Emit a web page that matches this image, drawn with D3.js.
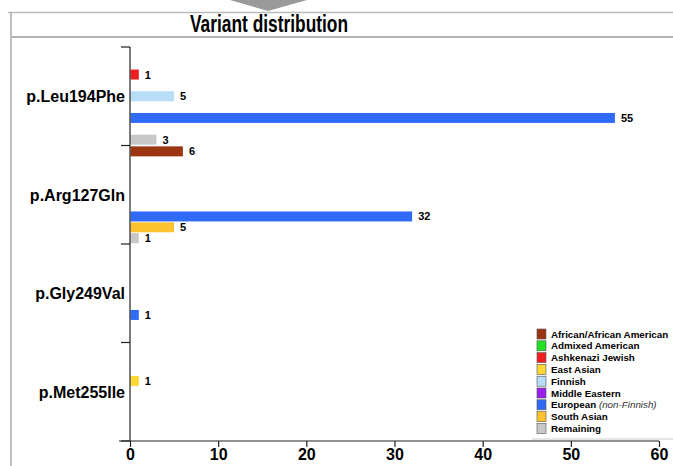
<!DOCTYPE html>
<html>
<head>
<meta charset="utf-8">
<script src="https://cdn.jsdelivr.net/npm/d3@7"></script>
<style>
  body { margin: 0; background: #fff; }
  text { font-family: "Liberation Sans", Arial, sans-serif; }
</style>
</head>
<body>
<script>
// Data
var variants = ["p.Leu194Phe", "p.Arg127Gln", "p.Gly249Val", "p.Met255Ile"];
var populations = ["African/African American", "Admixed American", "Ashkenazi Jewish",
  "East Asian", "Finnish", "Middle Eastern", "European", "South Asian", "Remaining"];
var popColors = ["#9c3511", "#22e022", "#f01e1e", "#fdd835", "#b7ddf7",
  "#9a1ef0", "#2f6bf7", "#fdc22e", "#c8c8c8"];
// one row per variant, one value per population (0 = no bar)
var leu194Phe = [0, 0, 1, 0, 5, 0, 55, 0, 3];
var arg127Gln = [6, 0, 0, 0, 0, 0, 32, 5, 1];
var gly249Val = [0, 0, 0, 0, 0, 0, 1, 0, 0];
var met255Ile = [0, 0, 0, 1, 0, 0, 0, 0, 0];
var counts = [leu194Phe, arg127Gln, gly249Val, met255Ile];
var xTicks = [0, 10, 20, 30, 40, 50, 60];

var W = 673, H = 466;
var svg = d3.select("body").append("svg")
    .attr("width", W)
    .attr("height", H);

// panel frame + header
svg.append("path")
    .attr("d", "M230,0 L307,0 L268,11 Z")
    .attr("fill", "#9a9a9a");
svg.append("line").attr("x1", 8).attr("x2", W).attr("y1", 12.5).attr("y2", 12.5)
    .attr("stroke", "#bbb").attr("stroke-width", 1.5);
svg.append("line").attr("x1", 11).attr("x2", W).attr("y1", 37).attr("y2", 37)
    .attr("stroke", "#999").attr("stroke-width", 1.5);
svg.append("line").attr("x1", 11).attr("x2", 11).attr("y1", 12).attr("y2", H)
    .attr("stroke", "#aaa").attr("stroke-width", 1.5);

svg.append("text")
    .attr("x", 269)
    .attr("y", 32)
    .attr("text-anchor", "middle")
    .attr("textLength", 158)
    .attr("lengthAdjust", "spacingAndGlyphs")
    .style("font-size", "23px")
    .style("font-weight", "bold")
    .text("Variant distribution");

// scales
var x = d3.scaleLinear().domain([0, 60]).range([130, 659]);
var y = d3.scaleBand().domain(variants).range([47, 441]);
var ySub = d3.scaleBand().domain(populations).range([0, y.bandwidth()]).padding(0.08);
var color = d3.scaleOrdinal().domain(populations).range(popColors);

var rows = [];
variants.forEach(function(v, i) {
  populations.forEach(function(p, j) {
    if (counts[i][j] > 0) rows.push({variant: v, pop: p, value: counts[i][j]});
  });
});

var g = svg.append("g");

g.selectAll("rect.bar").data(rows).enter()
  .append("rect")
    .attr("class", "bar")
    .attr("x", x(0) + 0.5)
    .attr("y", function(d) { return y(d.variant) + ySub(d.pop); })
    .attr("width", function(d) { return x(d.value) - x(0) - 0.5; })
    .attr("height", ySub.bandwidth())
    .attr("fill", function(d) { return color(d.pop); });

g.selectAll("text.val").data(rows).enter()
  .append("text")
    .attr("class", "val")
    .attr("x", function(d) { return x(d.value) + 6; })
    .attr("y", function(d) { return y(d.variant) + ySub(d.pop) + ySub.bandwidth() / 2; })
    .attr("dy", "0.36em")
    .style("font-size", "11px")
    .style("font-weight", "bold")
    .text(function(d) { return d.value; });

// y axis: line with ticks at band edges
var yEdges = variants.map(function(v) { return y(v); }).concat([y.range()[1]]);
svg.append("line")
    .attr("x1", 130).attr("x2", 130).attr("y1", 47).attr("y2", 441)
    .attr("stroke", "#222").attr("stroke-width", 1.2);
svg.selectAll("line.ytick").data(yEdges).enter()
  .append("line")
    .attr("class", "ytick")
    .attr("x1", 121).attr("x2", 130)
    .attr("y1", function(d) { return d; })
    .attr("y2", function(d) { return d; })
    .attr("stroke", "#222").attr("stroke-width", 1.2);
svg.selectAll("text.ylab").data(variants).enter()
  .append("text")
    .attr("class", "ylab")
    .attr("x", 125)
    .attr("y", function(d) { return y(d) + y.bandwidth() / 2; })
    .attr("dy", "0.36em")
    .attr("text-anchor", "end")
    .style("font-size", "16px")
    .style("font-weight", "bold")
    .text(function(d) { return d; });

// x axis
var xAxis = svg.append("g")
    .attr("transform", "translate(0,441)")
    .call(d3.axisBottom(x).tickValues(xTicks).tickSize(6).tickPadding(2).tickSizeOuter(0));
xAxis.select(".domain").remove();
xAxis.append("line")
    .attr("x1", 119).attr("x2", 659)
    .attr("stroke", "#222").attr("stroke-width", 1.2);
xAxis.selectAll(".tick line").attr("stroke", "#222").attr("stroke-width", 1.2);
xAxis.selectAll(".tick text")
    .attr("fill", "#000")
    .style("font-family", "'Liberation Sans', Arial, sans-serif")
    .style("font-size", "16px")
    .style("font-weight", "bold");

// legend
var legend = svg.append("g").attr("transform", "translate(537,329)");
var item = legend.selectAll("g").data(populations).enter()
  .append("g")
    .attr("transform", function(d, i) { return "translate(0," + (i * 11.8) + ")"; });
item.append("rect")
    .attr("width", 9).attr("height", 10)
    .attr("fill", function(d) { return color(d); })
    .attr("stroke", "#555").attr("stroke-width", 0.6);
item.append("text")
    .attr("x", 14)
    .attr("y", 5)
    .attr("dy", "0.36em")
    .style("font-size", "9.8px")
    .style("font-weight", "bold")
    .each(function(d) {
      var t = d3.select(this);
      if (d === "European") {
        t.append("tspan").text("European ");
        t.append("tspan").style("font-weight", "normal").style("font-style", "italic")
          .attr("fill", "#333").text("(non-Finnish)");
      } else {
        t.text(d);
      }
    });
svg.append("line")
    .attr("x1", 532).attr("x2", W).attr("y1", 439).attr("y2", 439)
    .attr("stroke", "#ccc").attr("stroke-width", 1);
</script>
</body>
</html>
